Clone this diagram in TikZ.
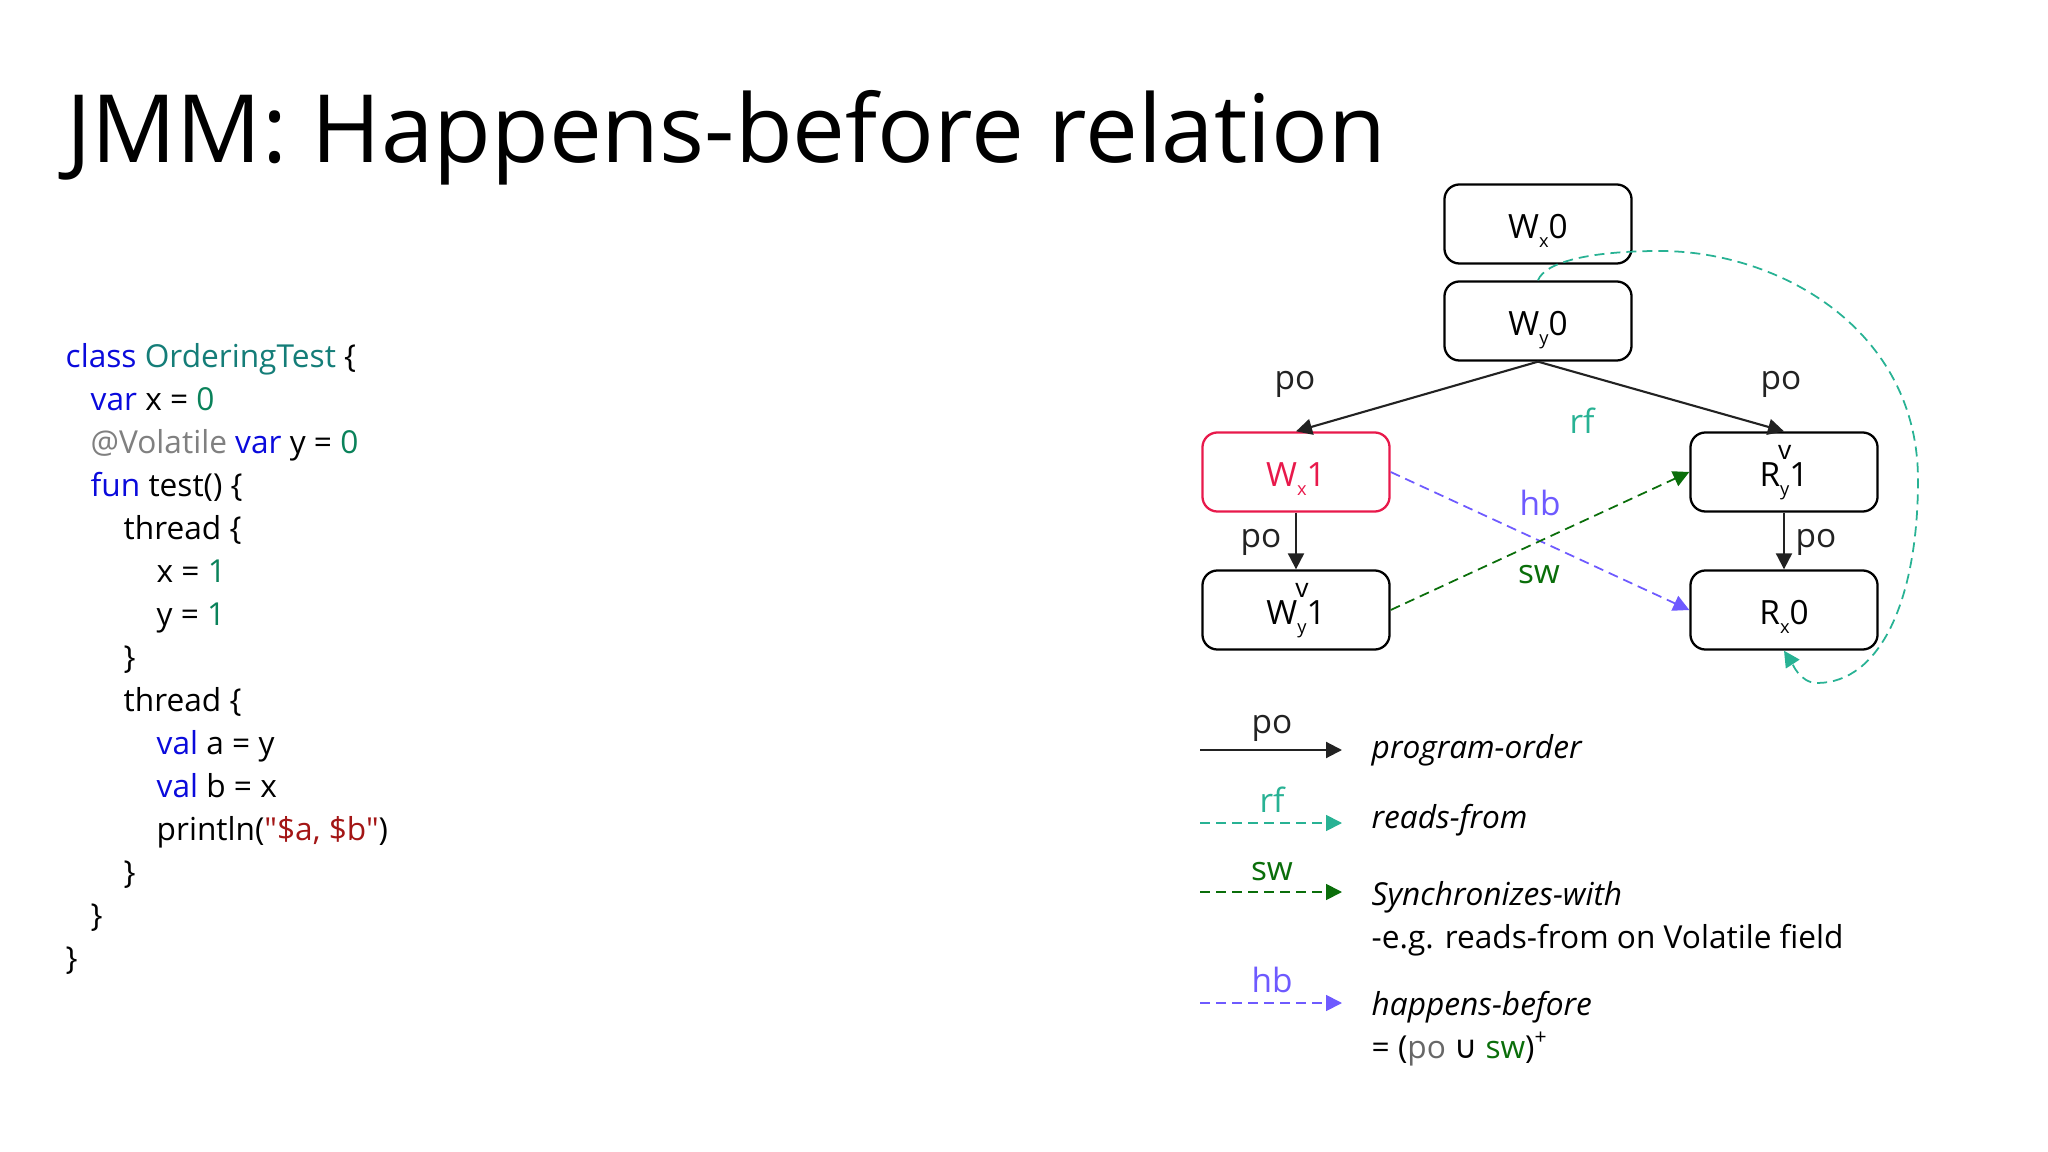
\documentclass[tikz,border=0pt]{standalone}
\usepackage{fontspec}
\setmainfont{Open Sans}
\newfontfamily\codefont{Open Sans}
\newfontfamily\symfont{DejaVu Sans}
\usetikzlibrary{arrows.meta, positioning}

\definecolor{kwblue}{RGB}{10,10,220}
\definecolor{clsteal}{RGB}{20,125,120}
\definecolor{numgreen}{RGB}{10,130,90}
\definecolor{annogray}{RGB}{128,128,128}
\definecolor{strred}{RGB}{163,21,21}
\definecolor{poblack}{RGB}{34,34,34}
\definecolor{rfteal}{RGB}{40,178,148}
\definecolor{swgreen}{RGB}{10,110,10}
\definecolor{hbpurple}{RGB}{110,90,255}
\definecolor{wxred}{RGB}{232,25,75}

\newcommand{\kw}[1]{\textcolor{kwblue}{#1}}
\newcommand{\cls}[1]{\textcolor{clsteal}{#1}}
\newcommand{\num}[1]{\textcolor{numgreen}{#1}}
\newcommand{\evsub}[1]{\raisebox{-0.27em}{\fontsize{5.2}{6}\selectfont #1}}
\newcommand{\evsubv}[1]{\setbox0\hbox{\fontsize{5.2}{6}\selectfont #1}\rlap{\hbox to\wd0{\hss\raisebox{0.8em}[0pt][0pt]{\fontsize{7.5}{8}\selectfont v}\hss}}\raisebox{-0.27em}{\box0}}

\begin{document}
\begin{tikzpicture}[x=0.01cm, y=-0.01cm]
    \tikzset{EventBox/.style = {draw, rounded corners=1.5mm, line width=0.65pt, minimum width=18.7mm, minimum height=7.9mm, inner sep=0pt, font=\fontsize{9.5}{11}\selectfont, text height=9pt, text depth=1pt}}
    \tikzset{EdgeStyle/.style = {line width=0.6pt, -{Triangle[length=1.6mm, width=1.6mm]}, color=poblack}}
    \tikzset{DashStyle/.style = {line width=0.5pt, dash pattern=on 1mm off 0.6mm, -{Triangle[length=1.6mm, width=1.6mm]}}}
    \tikzset{EdgeLabel/.style = {inner sep=0pt, font=\fontsize{9.5}{11}\selectfont}}
    \tikzset{CodeLine/.style = {anchor=base west, inner sep=0pt, font=\codefont\fontsize{9}{10}\selectfont}}
    \tikzset{KeyText/.style = {anchor=base west, inner sep=0pt, font=\fontsize{9}{11}\selectfont}}
    \useasboundingbox (0,0) rectangle (2048,1152);
    \node[anchor=base west, inner sep=0pt, font=\fontsize{26.8}{32}\selectfont] (title) at (66,163) {JMM: Happens-before relation};
    % code
    \node[CodeLine] (c1) at (65,368) {\kw{class} \cls{OrderingTest} \{};
    \node[CodeLine] (c2) at (90,411) {\kw{var} x = \num{0}};
    \node[CodeLine] (c3) at (90,454) {\textcolor{annogray}{@Volatile} \kw{var} y = \num{0}};
    \node[CodeLine] (c4) at (90,497) {\kw{fun} test() \{};
    \node[CodeLine] (c5) at (123,540) {thread \{};
    \node[CodeLine] (c6) at (156,583) {x = \num{1}};
    \node[CodeLine] (c7) at (156,625) {y = \num{1}};
    \node[CodeLine] (c8) at (123,668) {\}};
    \node[CodeLine] (c9) at (123,711) {thread \{};
    \node[CodeLine] (c10) at (156,754) {\kw{val} a = y};
    \node[CodeLine] (c11) at (156,797) {\kw{val} b = x};
    \node[CodeLine] (c12) at (156,840) {println(\textcolor{strred}{"\$a, \$b"})};
    \node[CodeLine] (c13) at (123,883) {\}};
    \node[CodeLine] (c14) at (90,926) {\}};
    \node[CodeLine] (c15) at (65,969) {\}};
    % events
    \node[EventBox] (Wx0) at (1538,224) {W\evsub{x}0};
    \node[EventBox] (Wy0) at (1538,321) {W\evsub{y}0};
    \node[EventBox, draw=wxred, text=wxred] (Wx1) at (1296,472) {W\evsub{x}1};
    \node[EventBox] (Wy1) at (1296,610) {W\evsubv{y}1};
    \node[EventBox] (Ry1) at (1784,472) {R\evsubv{y}1};
    \node[EventBox] (Rx0) at (1784,610) {R\evsub{x}0};
    \draw[EdgeStyle] (Wy0.south) -- (Wx1.north);
    \draw[EdgeStyle] (Wy0.south) -- (Ry1.north);
    \draw[EdgeStyle] (Wx1.south) -- (Wy1.north);
    \draw[EdgeStyle] (Ry1.south) -- (Rx0.north);
    \draw[DashStyle, color=hbpurple] (Wx1.east) -- (Rx0.west);
    \draw[DashStyle, color=swgreen] (Wy1.east) -- (Ry1.west);
    \draw[DashStyle, color=rfteal] (Wy0.north) .. controls (1545,262) and (1590,251) .. (1660,251)
        .. controls (1780,251) and (1918,330) .. (1918,480)
        .. controls (1918,600) and (1880,683) .. (1817,683)
        .. controls (1800,683) and (1792,663) .. (Rx0.south);
    \node[EdgeLabel, text=poblack] (lpoa) at (1295,384) {po};
    \node[EdgeLabel, text=poblack] (lpob) at (1781,384) {po};
    \node[EdgeLabel, text=poblack] (lpoc) at (1261,542) {po};
    \node[EdgeLabel, text=poblack] (lpod) at (1816,542) {po};
    \node[EdgeLabel, text=rfteal] (lrf) at (1582,421) {rf};
    \node[EdgeLabel, text=hbpurple] (lhb) at (1540,503) {hb};
    \node[EdgeLabel, text=swgreen] (lsw) at (1539,575) {sw};
    % legend
    \coordinate (kpoa) at (1200,750);
    \coordinate (kpob) at (1342,750);
    \coordinate (krfa) at (1200,823);
    \coordinate (krfb) at (1342,823);
    \coordinate (kswa) at (1200,892);
    \coordinate (kswb) at (1342,892);
    \coordinate (khba) at (1200,1003);
    \coordinate (khbb) at (1342,1003);
    \draw[EdgeStyle] (kpoa) -- (kpob);
    \draw[DashStyle, color=rfteal] (krfa) -- (krfb);
    \draw[DashStyle, color=swgreen] (kswa) -- (kswb);
    \draw[DashStyle, color=hbpurple] (khba) -- (khbb);
    \node[EdgeLabel, text=poblack] (kpo) at (1272,728) {po};
    \node[EdgeLabel, text=rfteal] (krf) at (1272,800) {rf};
    \node[EdgeLabel, text=swgreen] (ksw) at (1272,872) {sw};
    \node[EdgeLabel, text=hbpurple] (khb) at (1272,980) {hb};
    \node[KeyText] (tpo) at (1371,758) {\itshape program-order};
    \node[KeyText] (trf) at (1371,828) {\itshape reads-from};
    \node[KeyText] (tsw) at (1371,905) {\itshape Synchronizes-with};
    \node[KeyText] (tswb) at (1371,948) {-e.g. reads-from on Volatile field};
    \node[KeyText] (thb) at (1371,1015) {\itshape happens-before};
    \node[KeyText] (thbb) at (1371,1058) {= (\textcolor{annogray!80!black}{po} {\symfont ∪} \textcolor{swgreen}{sw})\textsuperscript{+}};
\end{tikzpicture}
\end{document}
